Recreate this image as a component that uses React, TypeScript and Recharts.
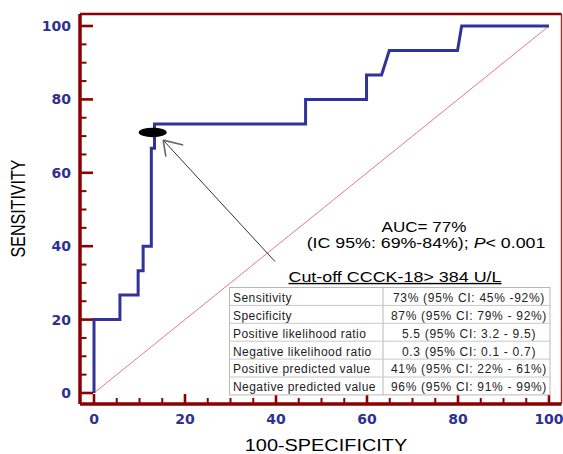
import React from 'react';
import { ComposedChart, Line, XAxis, YAxis, ReferenceLine, ReferenceDot } from 'recharts';

// ROC curve (100 - specificity vs sensitivity)
const fpr = [0, 0, 5.7, 5.7, 9.7, 9.7, 10.8, 10.8, 12.6, 12.6, 13.3, 13.3, 46.5, 46.5, 59.9, 59.9, 63.2, 64.9, 79.9, 80.8, 100];
const sensitivity = [0, 20, 20, 26.67, 26.67, 33.33, 33.33, 40, 40, 66.67, 66.67, 73.33, 73.33, 80, 80, 86.67, 86.67, 93.33, 93.33, 100, 100];

// reference diagonal
const diagX = [0, 100];
const diagY = [0, 100];

// ticks
const xTicks = [0, 5, 10, 15, 20, 25, 30, 35, 40, 45, 50, 55, 60, 65, 70, 75, 80, 85, 90, 95, 100];
const yTicks = [0, 5, 10, 15, 20, 25, 30, 35, 40, 45, 50, 55, 60, 65, 70, 75, 80, 85, 90, 95, 100];
const labeledTicks = [0, 20, 40, 60, 80, 100];

// annotations
const cutoffPoint = { x: 12.9, y: 71 };
const arrowTail = { x: 39.8, y: 35.8 };
const arrowTip = { x: 15.2, y: 68.9 };
const arrowHeadA = { x: 19.6, y: 67.6 };
const arrowHeadB = { x: 15.8, y: 64.4 };

const tableLabels = [
  'Sensitivity',
  'Specificity',
  'Positive likelihood ratio',
  'Negative likelihood ratio',
  'Positive predicted value',
  'Negative predicted value',
];
const tableValues = [
  '73% (95% CI: 45% -92%)',
  '87% (95% CI: 79% - 92%)',
  '5.5 (95% CI: 3.2 - 9.5)',
  '0.3 (95% CI: 0.1 - 0.7)',
  '41% (95% CI: 22% - 61%)',
  '96% (95% CI: 91% - 99%)',
];

const rocData = fpr.map((x, i) => ({ x, y: sensitivity[i] }));
const diagData = diagX.map((x, i) => ({ x, y: diagY[i] }));

const X_MIN = -3.077;
const X_MAX = 102.747;
const Y_MIN = -3.0;
const Y_MAX = 103.27;

const AXIS = '#8B0000';
const TICK_TEXT = '#2D3193';
const LINE_BLUE = '#303399';

const XTick = (props: any) => {
  const { x, y, payload } = props;
  const v = payload.value;
  const major = labeledTicks.includes(v);
  return (
    <g>
      <line x1={x} x2={x} y1={y} y2={y - (major ? 10 : 6)} stroke={AXIS} strokeWidth={major ? 2.6 : 2} />
      {major && (
        <text x={x} y={y + 19.5} textAnchor="middle" fontFamily="DejaVu Sans" fontWeight="bold" fontSize={14} fill={TICK_TEXT}>
          {v}
        </text>
      )}
    </g>
  );
};

const YTick = (props: any) => {
  const { x, y, payload } = props;
  const v = payload.value;
  const major = labeledTicks.includes(v);
  return (
    <g>
      <line x1={x} x2={x + (major ? 13 : 6.5)} y1={y} y2={y} stroke={AXIS} strokeWidth={major ? 2.6 : 2} />
      {major && (
        <text x={x - 9} y={y + 5} textAnchor="end" fontFamily="DejaVu Sans" fontWeight="bold" fontSize={14} fill={TICK_TEXT}>
          {v}
        </text>
      )}
    </g>
  );
};

const TABLE_X0 = 229.5;
const TABLE_X1 = 550;
const TABLE_DIV = 383;
const TABLE_Y0 = 287.5;
const ROW_H = 17.9;

export default function App() {
  const font = 'Liberation Sans, Arial, sans-serif';
  return (
    <div style={{ position: 'absolute', left: 0, top: 0, width: 563, height: 454, background: '#fff' }}>
      <ComposedChart width={563} height={454} margin={{ top: 14, right: 1.5, bottom: 0, left: 0 }}>
        <XAxis
          type="number"
          dataKey="x"
          domain={[X_MIN, X_MAX]}
          allowDataOverflow
          ticks={xTicks}
          interval={0}
          height={50}
          tickSize={0}
          tickMargin={0}
          tickLine={false}
          axisLine={{ stroke: AXIS, strokeWidth: 3.5 }}
          tick={(p: any) => <XTick {...p} />}
        />
        <YAxis
          type="number"
          dataKey="y"
          domain={[Y_MIN, Y_MAX]}
          allowDataOverflow
          ticks={yTicks}
          interval={0}
          width={80}
          tickSize={0}
          tickMargin={0}
          tickLine={false}
          axisLine={{ stroke: AXIS, strokeWidth: 3.5 }}
          tick={(p: any) => <YTick {...p} />}
        />
        <ReferenceLine y={Y_MAX} stroke={AXIS} strokeWidth={2.5} />
        <ReferenceLine x={X_MAX} stroke="#A83232" strokeWidth={1.5} />
        <Line
          data={diagData}
          dataKey="y"
          type="linear"
          stroke="#D85050"
          strokeOpacity={0.75}
          strokeWidth={1}
          dot={false}
          isAnimationActive={false}
        />
        <Line
          data={rocData}
          dataKey="y"
          type="linear"
          stroke={LINE_BLUE}
          strokeWidth={3}
          dot={false}
          isAnimationActive={false}
        />
        <ReferenceLine segment={[arrowTail, arrowTip]} stroke="#333" strokeWidth={1} />
        <ReferenceLine segment={[arrowTip, arrowHeadA]} stroke="#666" strokeWidth={1.6} />
        <ReferenceLine segment={[arrowTip, arrowHeadB]} stroke="#666" strokeWidth={1.6} />
        <ReferenceDot
          x={cutoffPoint.x}
          y={cutoffPoint.y}
          r={5}
          shape={(p: any) => <ellipse cx={p.cx} cy={p.cy} rx={14} ry={4.7} fill="#000" />}
        />
      </ComposedChart>
      <svg
        width={563}
        height={454}
        style={{ position: 'absolute', left: 0, top: 0, pointerEvents: 'none' }}
      >
        <text
          transform="translate(25,208.5) rotate(-90) scale(1,1.3)"
          x={0}
          y={0}
          textAnchor="middle"
          fontFamily={font}
          fontSize={16}
          fill="#000"
        >
          SENSITIVITY
        </text>
        <text
          transform="translate(326,451) scale(1.17,1)"
          x={0}
          y={0}
          textAnchor="middle"
          fontFamily={font}
          fontSize={17}
          fill="#000"
        >
          100-SPECIFICITY
        </text>
        <text transform="translate(424,232) scale(1.22,1)" x={0} y={0} textAnchor="middle" fontFamily={font} fontSize={14} fill="#000">
          AUC= 77%
        </text>
        <text transform="translate(426,248) scale(1.27,1)" x={0} y={0} textAnchor="middle" fontFamily={font} fontSize={14} fill="#000">
          (IC 95%: 69%-84%); <tspan fontStyle="italic">P</tspan>&lt; 0.001
        </text>
        <text
          transform="translate(395,282) scale(1.28,1)"
          x={0}
          y={0}
          textAnchor="middle"
          fontFamily={font}
          fontSize={14}
          fill="#000"
          style={{ textDecoration: 'underline' }}
        >
          Cut-off CCCK-18&gt; 384 U/L
        </text>
        <rect
          x={TABLE_X0}
          y={TABLE_Y0}
          width={TABLE_X1 - TABLE_X0}
          height={ROW_H * tableLabels.length}
          fill="#fff"
          stroke="#B8B8B8"
          strokeWidth={1}
        />
        <line x1={TABLE_DIV} x2={TABLE_DIV} y1={TABLE_Y0} y2={TABLE_Y0 + ROW_H * tableLabels.length} stroke="#B8B8B8" strokeWidth={1} />
        {tableLabels.map((lab, i) => (
          <g key={lab}>
            {i > 0 && (
              <line x1={TABLE_X0} x2={TABLE_X1} y1={TABLE_Y0 + ROW_H * i} y2={TABLE_Y0 + ROW_H * i} stroke="#C8C8C8" strokeWidth={1} />
            )}
            <text x={233} y={TABLE_Y0 + ROW_H * i + 14.3} fontFamily={font} fontSize={12} fill="#222" letterSpacing={0.45}>
              {lab}
            </text>
            <text x={469} y={TABLE_Y0 + ROW_H * i + 14.3} textAnchor="middle" fontFamily={font} fontSize={12} fill="#222" letterSpacing={0.7}>
              {tableValues[i]}
            </text>
          </g>
        ))}
      </svg>
    </div>
  );
}
